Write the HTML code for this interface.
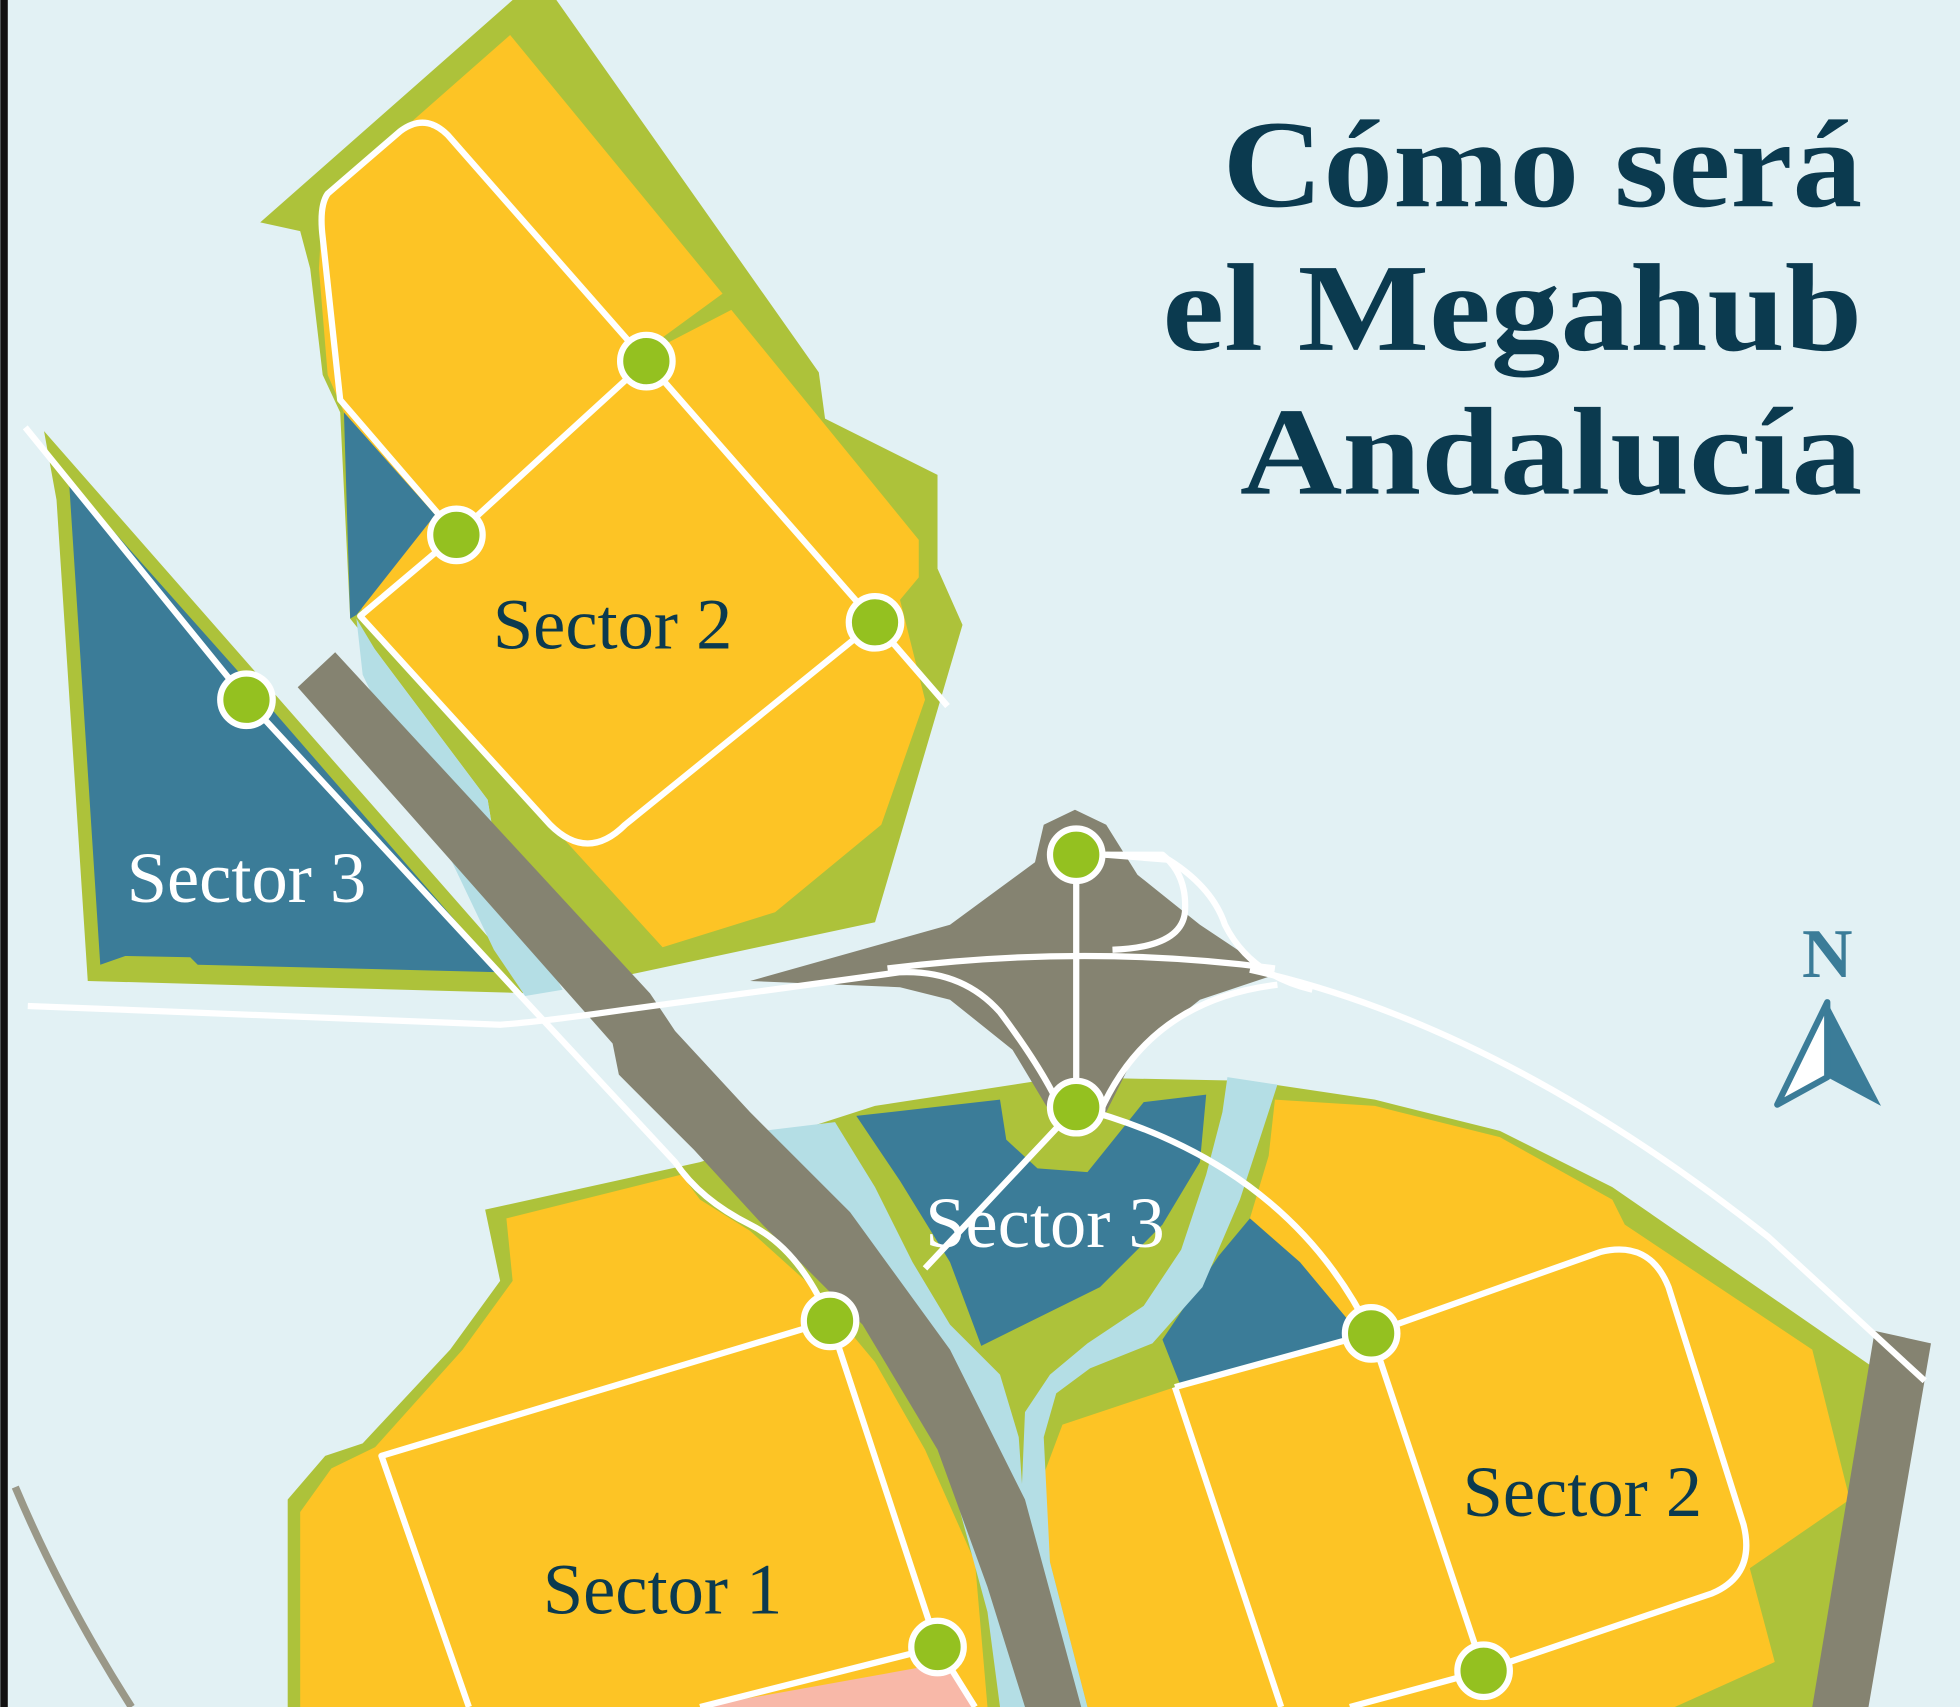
<!DOCTYPE html>
<html><head><meta charset="utf-8"><style>
html,body{margin:0;padding:0;background:#e2f1f4;}
svg{display:block}
</style></head><body>
<svg width="1960" height="1707" viewBox="0 0 1568 1366" xmlns="http://www.w3.org/2000/svg">
<rect width="1568" height="1366" fill="#e2f1f4"/>
<rect x="0" y="0" width="6" height="1366" fill="#111"/>
<polygon fill="#adc23a" points="208,178 410,0 445,0 655,298 660,335 750,380 750,455 770,500 700,738 480,785 400,700 390,640 300,520 280,495 272,330 258,300 248,215 240,185"/>
<polygon fill="#fdc425" points="258,160 408,28 578,235 500,292 585,248 735,432 735,462 720,480 740,560 705,660 620,730 530,758 290,495 275,330 262,300 255,215"/>
<polygon fill="#3b7c98" points="275,330 348,412 285,492 280,495"/>
<polygon fill="#adc23a" points="35,345 430,795 70,785 45,400"/>
<polygon fill="#3b7c98" points="55,385 215,565 400,778 158,772 152,766 100,765 80,772"/>
<polygon fill="#b4dee5" points="285,495 300,520 390,640 400,700 450,792 420,797 395,760 290,540"/>
<polygon fill="#adc23a" points="388,968 560,930 700,885 850,862 1000,865 1100,880 1200,905 1290,950 1500,1095 1470,1366 230,1366 230,1200 260,1165 290,1155 360,1080 400,1025"/>
<polygon fill="#fdc425" points="405,975 545,940 560,960 600,985 650,1030 700,1090 740,1160 780,1250 790,1366 240,1366 240,1210 265,1175 300,1158 370,1080 410,1025"/>
<polygon fill="#b4dee5" points="610,905 668,898 700,950 730,1010 760,1060 800,1100 815,1150 830,1366 800,1366 790,1290 760,1180 720,1090 660,1000"/>
<polygon fill="#3b7c98" points="685,893 800,880 805,912 830,935 870,938 915,882 965,876 960,930 930,980 880,1030 785,1077 760,1010 720,945"/>
<polygon fill="#fdc425" points="1020,880 1100,885 1200,910 1290,960 1300,980 1450,1080 1480,1200 1400,1255 1420,1330 1340,1366 870,1366 840,1250 835,1180 850,1140 940,1110 1090,1070 1040,1010 1000,975 1015,925"/>
<polygon fill="#3b7c98" points="930,1072 975,1005 1000,975 1040,1010 1090,1070 945,1110"/>
<polygon fill="#b4dee5" points="982,862 1022,868 1010,905 992,960 962,1030 922,1075 872,1095 845,1115 835,1150 840,1250 870,1366 845,1366 815,1250 820,1130 840,1100 870,1075 915,1045 945,1000 965,940 978,890"/>
<polygon fill="#f8b8a8" points="560,1366 760,1330 780,1366"/>
<polygon fill="#858371" points="238,550 268,522 520,795 540,825 600,890 680,970 760,1080 820,1200 865,1366 820,1366 790,1270 750,1160 690,1060 610,980 555,920 495,860 490,835"/>
<polygon fill="#858371" points="600,785 760,740 828,690 835,660 860,648 885,660 910,700 960,740 1020,780 960,800 910,840 885,890 840,890 810,840 760,800 720,790"/>
<polygon fill="#858371" points="1500,1065 1545,1075 1495,1366 1450,1366"/>
<path d="M12,1190 Q50,1280 105,1366" stroke="#9a9888" stroke-width="6" fill="none"/>
<g stroke="#fff" stroke-width="5" fill="none" stroke-linejoin="round">
<path d="M700,498 L500,660 Q470,690 440,660 L288,493 L365,428 L517,289 L358,108 Q340,90 320,105 L262,155 Q255,165 258,190 L272,320 L365,428"/>
<path d="M517,289 L700,498 L758,565"/>
<path d="M20,342 L197,560 L410,790 L540,930 Q560,960 600,980 Q640,1000 664,1057 L750,1318 L780,1366"/>
<path d="M22,805 L400,820 Q430,818 500,808 L720,778 Q770,776 800,810 Q830,850 845,880"/>
<path d="M710,775 Q870,755 1020,775"/>
<path d="M861,684 L861,886"/>
<path d="M880,684 L930,684 Q950,700 948,730 Q945,758 890,760"/>
<path d="M885,684 L935,688 Q970,710 980,740 Q1000,780 1050,792"/>
<path d="M1000,776 Q1200,820 1415,990 L1540,1105"/>
<path d="M880,890 Q920,800 1022,788"/>
<path d="M861,886 Q1030,930 1097,1067"/>
<path d="M861,886 L740,1015"/>
<path d="M1097,1067 L1280,1002 Q1320,992 1335,1030 L1395,1220 Q1405,1260 1370,1275 L1187,1337 L1080,1366"/>
<path d="M1097,1067 L1187,1337"/>
<path d="M940,1110 L1025,1366"/>
<path d="M940,1110 L1097,1067"/>
<path d="M664,1057 L305,1165 L375,1366"/>
<path d="M560,1366 L750,1318"/>
</g>
<g fill="#94c120" stroke="#fff" stroke-width="5">
<circle cx="517" cy="289" r="21"/><circle cx="365" cy="428" r="21"/><circle cx="700" cy="498" r="21"/>
<circle cx="197" cy="560" r="21"/><circle cx="861" cy="684" r="21"/><circle cx="861" cy="886" r="21"/>
<circle cx="664" cy="1057" r="21"/><circle cx="1097" cy="1067" r="21"/><circle cx="750" cy="1318" r="21"/>
<circle cx="1187" cy="1337" r="21"/>
</g>
<g font-family="'Liberation Serif',serif" font-size="58" text-anchor="middle">
<text x="490" y="519" fill="#0b3a4f">Sector 2</text>
<text x="197" y="722" fill="#fff">Sector 3</text>
<text x="836" y="998" fill="#fff">Sector 3</text>
<text x="530" y="1291" fill="#0b3a4f">Sector 1</text>
<text x="1266" y="1213" fill="#0b3a4f">Sector 2</text>
</g>
<g font-family="'Liberation Serif',serif" font-weight="bold" font-size="100" fill="#0b3a4f" text-anchor="end">
<text x="1490" y="165" textLength="512" lengthAdjust="spacingAndGlyphs">Cómo será</text>
<text x="1490" y="280" textLength="560" lengthAdjust="spacingAndGlyphs">el Megahub</text>
<text x="1490" y="395" textLength="498" lengthAdjust="spacingAndGlyphs">Andalucía</text>
</g>
<text x="1462" y="782" font-family="'Liberation Serif',serif" font-weight="bold" font-size="56" fill="#3b7c98" text-anchor="middle">N</text>
<polygon points="1462,802 1505,885 1462,862" fill="#3b7c98"/>
<polygon points="1462,802 1462,862 1422,884" fill="#fff" stroke="#3b7c98" stroke-width="5" stroke-linejoin="round"/>
</svg>
</body></html>
